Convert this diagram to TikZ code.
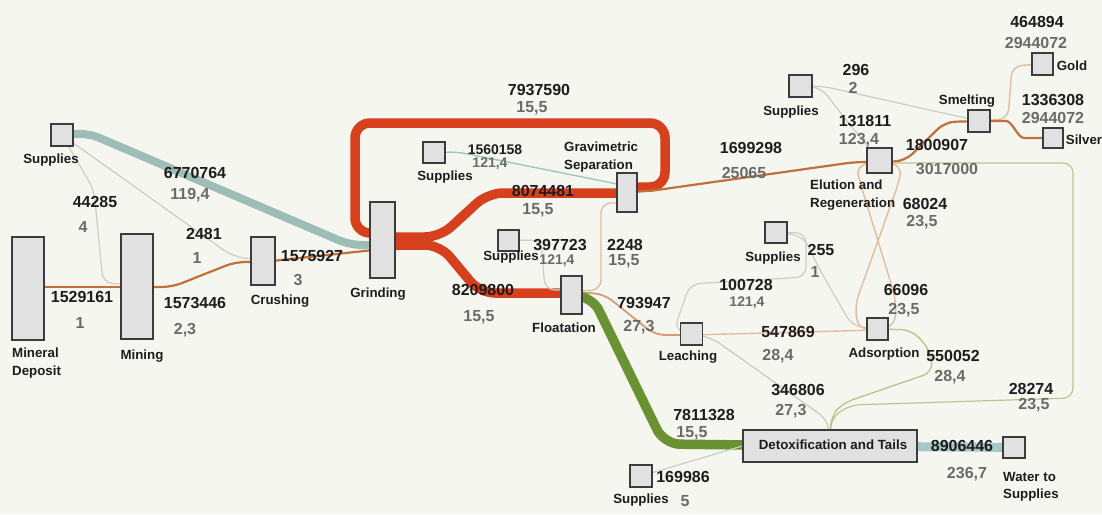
\documentclass[tikz,border=0pt]{standalone}
\usepackage{fontspec}
\setmainfont{Liberation Sans}
\usetikzlibrary{backgrounds}
\definecolor{bg}{HTML}{F6F6F1}
\definecolor{boxfill}{HTML}{E1E1E1}
\definecolor{boxline}{HTML}{3C3C3C}
\definecolor{numc}{HTML}{1C1C1C}
\definecolor{subc}{HTML}{6A6A6A}
\definecolor{tealc}{HTML}{9DBDB6}
\definecolor{tealw}{HTML}{A8C8C6}
\definecolor{redc}{HTML}{D6401C}
\definecolor{greenc}{HTML}{6B9232}
\definecolor{brownc}{HTML}{C2703A}
\definecolor{peachc}{HTML}{E2BC9E}
\definecolor{grayc}{HTML}{CDCDC6}
\definecolor{olivec}{HTML}{BAC68F}
\definecolor{tealthin}{HTML}{A6C2BC}
\begin{document}
\begin{tikzpicture}[x=1pt,y=-1pt,
  box/.style={draw=boxline, fill=boxfill, line width=1.2pt, inner sep=0pt},
  num/.style={font=\fontsize{16}{18}\selectfont\bfseries, text=numc, inner sep=0pt},
  smallnum/.style={font=\fontsize{14}{16}\selectfont\bfseries, text=numc, inner sep=0pt},
  sub/.style={font=\fontsize{16}{18}\selectfont\bfseries, text=subc, inner sep=0pt},
  smallsub/.style={font=\fontsize{14}{16}\selectfont\bfseries, text=subc, inner sep=0pt},
  lab/.style={font=\fontsize{13.3}{17.5}\selectfont\bfseries, text=numc, inner sep=0pt},
  redf/.style={draw=redc, line width=9.5pt, rounded corners=15pt},
  tealf/.style={draw=tealc, line width=8pt, rounded corners=12pt},
  greenf/.style={draw=greenc, line width=9.5pt, rounded corners=16pt},
  brownf/.style={draw=brownc, line width=2.2pt, rounded corners=10pt},
  peachf/.style={draw=peachc, line width=1.4pt, rounded corners=10pt},
  grayf/.style={draw=grayc, line width=1.2pt, rounded corners=10pt},
  olivef/.style={draw=olivec, line width=1.4pt, rounded corners=10pt},
  tealt/.style={draw=tealthin, line width=1.4pt, rounded corners=8pt}
]
\useasboundingbox (0,0) rectangle (1102,514);

% ---------------- boxes ----------------
\node[box, minimum width=32pt, minimum height=103pt] (md) at (28,288.5) {};
\node[box, minimum width=32pt, minimum height=105pt] (mining) at (137,286.5) {};
\node[box, minimum width=24pt, minimum height=48pt] (crush) at (263,261) {};
\node[box, minimum width=25pt, minimum height=76pt] (grind) at (382.5,240) {};
\node[box, minimum width=22pt, minimum height=22pt] (supTL) at (62,135) {};
\node[box, minimum width=22pt, minimum height=21pt] (supLoop) at (434,152.5) {};
\node[box, minimum width=20pt, minimum height=39pt] (grav) at (627,192.5) {};
\node[box, minimum width=21pt, minimum height=21pt] (supMid) at (508.5,240.5) {};
\node[box, minimum width=21pt, minimum height=38pt] (flot) at (571.5,295) {};
\node[box, minimum width=22pt, minimum height=22pt] (leach) at (691.5,334) {};
\node[box, minimum width=22pt, minimum height=21pt] (supMR) at (776,232.5) {};
\node[box, minimum width=21pt, minimum height=22pt] (ads) at (877.5,329) {};
\node[box, minimum width=25pt, minimum height=25pt] (elu) at (879.5,160.5) {};
\node[box, minimum width=23pt, minimum height=22pt] (supTR) at (800.5,86) {};
\node[box, minimum width=22pt, minimum height=22pt] (smelt) at (979,121) {};
\node[box, minimum width=21pt, minimum height=22pt] (gold) at (1042.5,64) {};
\node[box, minimum width=20pt, minimum height=20pt] (silver) at (1053,138) {};
\node[box, minimum width=174pt, minimum height=32pt] (detox) at (830,446) {};
\node[box, minimum width=22pt, minimum height=21pt] (water) at (1014,447.5) {};
\node[box, minimum width=22pt, minimum height=22pt] (supBot) at (641,476) {};

% ---------------- flows ----------------
\begin{pgfonlayer}{background}
\fill[bg] (0,0) rectangle (1102,514);
% red
\draw[redf] (grind.center |- 0,233) -- (355,233) -- (355,123) -- (665,123) -- (665,187) -- (grav.center |- 0,187);
\draw[redf] (grind.center |- 0,237) -- (440,237) -- (488,193) -- (grav.center |- 0,193);
\draw[redf] (grind.center |- 0,245) -- (440,245) -- (480,293) -- (flot.center |- 0,293);
% teal from supplies
\draw[tealf] (supTL.center) -- (88,133) -- (350,245) -- (grind.center |- 0,245);
\draw[grayf] (supTL.center) -- (94,190) -- (103,283) -- (mining.center |- 0,285);
\draw[grayf] (supTL.center) -- (232,256) -- (crush.center);
% brown chain
\draw[brownf] (md.center |- 0,287) -- (mining.center |- 0,287);
\draw[brownf] (mining.center |- 0,287) -- (172,287) -- (235,262) -- (crush.center |- 0,262);
\draw[brownf] (crush.center |- 0,262) -- (grind.center |- 0,249);
% supplies in loop -> gravimetric
\draw[tealt] (supLoop.center) -- (458,152) -- (grav.center |- 0,186);
% gravimetric -> elution
\draw[brownf] (grav.center |- 0,192) -- (650,191) -- (855,162) -- (elu.center |- 0,162);
% supplies mid -> floatation
\draw[grayf] (supMid.center) -- (541,240) -- (545,290) -- (flot.center |- 0,290);
% gravimetric -> floatation
\draw[peachf] (grav.center |- 0,203) -- (601,203) -- (601,290) -- (flot.center |- 0,291);
% floatation -> leaching
\draw[brownf, draw=brownc!70, line width=1.8pt] (flot.center |- 0,292) -- (604,294) -- (655,335) -- (leach.center |- 0,335);
% floatation -> detox
\draw[greenf] (flot.center |- 0,296) -- (592,296) -- (664,444) -- (detox.center);
% supplies bottom -> detox
\draw[grayf] (supBot.center) -- (detox.west);
% supplies MR -> leaching
\draw[grayf] (supMR.center) -- (806,233) -- (806,277) -- (690,284) -- (674,330) -- (leach.center);
% supplies MR -> adsorption
\draw[grayf] (supMR.center) -- (803,236) -- (820,270) -- (852,326) -- (ads.center);
% leaching -> adsorption
\draw[peachf] (leach.center |- 0,335) -- (ads.center |- 0,330);
% leaching -> detox
\draw[grayf, draw=grayc!80!olivec] (leach.center) -- (712,338) -- (828,420) -- (detox.center);
% adsorption -> detox
\draw[olivef] (ads.center) -- (912,330) -- (930,350) -- (933,372) -- (843,403) -- (831,416) -- (detox.center);
% elution <-> adsorption
\draw[peachf] (elu.center) -- (856,166) -- (860,182) -- (896,300) -- (895,326) -- (ads.center);
\draw[peachf] (elu.center) -- (902,166) -- (899,182) -- (855,305) -- (858,329) -- (ads.center);
% elution -> smelting
\draw[brownf] (elu.center |- 0,162) -- (905,161) -- (945,122) -- (smelt.center);
% elution -> detox (28274)
\draw[olivef, line width=1.2pt] (elu.center |- 0,163) -- (1073,163) -- (1073,398) -- (850,405) -- (831,418) -- (detox.center);
% supplies TR -> smelting / elution
\draw[grayf] (supTR.center) -- (822,86) -- (smelt.center);
\draw[grayf] (supTR.center) -- (822,88) -- (838,110) -- (elu.center);
% smelting -> gold / silver
\draw[peachf] (smelt.center) -- (1008,119) -- (1012,66) -- (gold.center);
\draw[brownf] (smelt.center) -- (996,121) to[out=0,in=180] (1034,138) -- (silver.center);
% detox -> water
\draw[draw=tealw, line width=9pt] (detox.center) -- (water.center);
\end{pgfonlayer}

% ---------------- box labels ----------------
\node[lab, align=left, anchor=north west] (lmd) at (12,348) {Mineral\\Deposit};
\node[lab] (lmining) at (142,356) {Mining};
\node[lab] (lcrush) at (280,301) {Crushing};
\node[lab] (lgrind) at (378,294) {Grinding};
\node[lab] (lsupTL) at (51,160) {Supplies};
\node[lab] (lsupLoop) at (445,177) {Supplies};
\node[lab, align=left, anchor=north west] (lgrav) at (564,142) {Gravimetric\\Separation};
\node[lab] (lsupMid) at (511,257) {Supplies};
\node[lab] (lflot) at (564,328) {Floatation};
\node[lab] (lleach) at (688,357) {Leaching};
\node[lab] (lsupMR) at (773,258) {Supplies};
\node[lab] (lads) at (884,354) {Adsorption};
\node[lab, align=left, anchor=north west] (lelu) at (810,180) {Elution and\\Regeneration};
\node[lab] (lsupTR) at (791,112) {Supplies};
\node[lab] (lsmelt) at (967,101) {Smelting};
\node[lab] (lgold) at (1072,66) {Gold};
\node[lab] (lsilver) at (1084,140) {Silver};
\node[lab] (ldetox) at (833,445) {Detoxification and Tails};
\node[lab, align=left, anchor=north west] (lwater) at (1003,472) {Water to\\Supplies};
\node[lab] (lsupBot) at (641,500) {Supplies};

% ---------------- flow values ----------------
\node[num] (v1) at (82,297) {1529161};       \node[sub] (w1) at (80,323) {1};
\node[num] (v2) at (195,303) {1573446};      \node[sub] (w2) at (185,330) {2,3};
\node[num] (v3) at (95,202) {44285};         \node[sub] (w3) at (83,227) {4};
\node[num] (v4) at (195,173) {6770764};      \node[sub] (w4) at (190,195) {119,4};
\node[num] (v5) at (204,234) {2481};         \node[sub] (w5) at (197,258) {1};
\node[num] (v6) at (312,256) {1575927};      \node[sub] (w6) at (298,280) {3};
\node[num] (v7) at (539,90) {7937590};       \node[sub] (w7) at (532,108) {15,5};
\node[smallnum] (v8) at (495,150) {1560158}; \node[smallsub] (w8) at (490,164) {121,4};
\node[num] (v9) at (543,191) {8074481};      \node[sub] (w9) at (538,210) {15,5};
\node[num] (v10) at (560,245) {397723};      \node[smallsub] (w10) at (557,261) {121,4};
\node[num] (v11) at (625,245) {2248};        \node[sub] (w11) at (624,261) {15,5};
\node[num] (v12) at (483,290) {8209800};     \node[sub] (w12) at (479,317) {15,5};
\node[num] (v13) at (644,303) {793947};      \node[sub] (w13) at (639,327) {27,3};
\node[num] (v14) at (751,148) {1699298};     \node[sub] (w14) at (744,173) {25065};
\node[num] (v15) at (856,70) {296};          \node[sub] (w15) at (853,88) {2};
\node[num] (v16) at (865,121) {131811};      \node[sub] (w16) at (859,140) {123,4};
\node[num] (v17) at (937,145) {1800907};     \node[sub] (w17) at (947,169) {3017000};
\node[num] (v18) at (1037,22) {464894};      \node[sub] (w18) at (1036,43) {2944072};
\node[num] (v19) at (1053,100) {1336308};    \node[sub] (w19) at (1053,118) {2944072};
\node[num] (v20) at (925,204) {68024};       \node[sub] (w20) at (922,222) {23,5};
\node[num] (v21) at (821,250) {255};         \node[sub] (w21) at (815,272) {1};
\node[num] (v22) at (746,285) {100728};      \node[smallsub] (w22) at (747,303) {121,4};
\node[num] (v23) at (906,290) {66096};       \node[sub] (w23) at (904,310) {23,5};
\node[num] (v24) at (788,332) {547869};      \node[sub] (w24) at (778,356) {28,4};
\node[num] (v25) at (953,356) {550052};      \node[sub] (w25) at (950,377) {28,4};
\node[num] (v26) at (798,390) {346806};      \node[sub] (w26) at (791,411) {27,3};
\node[num] (v27) at (1031,389) {28274};      \node[sub] (w27) at (1034,405) {23,5};
\node[num] (v28) at (704,415) {7811328};     \node[sub] (w28) at (692,433) {15,5};
\node[num] (v29) at (962,446) {8906446};     \node[sub] (w29) at (967,474) {236,7};
\node[num] (v30) at (683,477) {169986};      \node[sub] (w30) at (685,501) {5};
\end{tikzpicture}
\end{document}
